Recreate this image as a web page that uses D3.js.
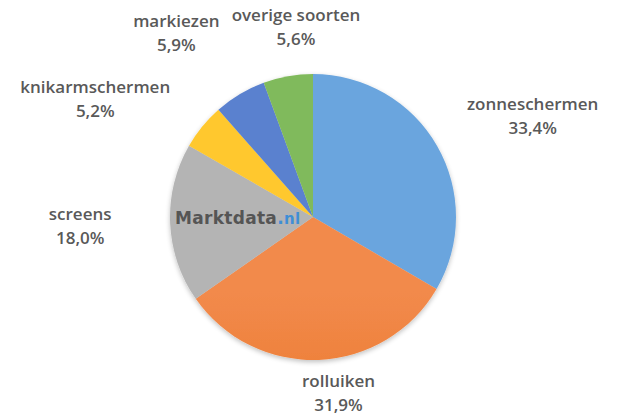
<!DOCTYPE html>
<html>
<head>
<meta charset="utf-8">
<script src="https://cdn.jsdelivr.net/npm/d3@7"></script>
<style>
  body { margin: 0; background: #fff; }
  svg { display: block; }
  text { font-family: "Open Sans", "Noto Sans", sans-serif; font-weight: 600; fill: #595959; }
</style>
</head>
<body>
<div id="chart"></div>
<script>
// Chart data
var categories = ['zonneschermen', 'rolluiken', 'screens', 'knikarmschermen', 'markiezen', 'overige soorten'];
var shares = [33.4, 31.9, 18.0, 5.2, 5.9, 5.6];
var shareLabels = ['33,4%', '31,9%', '18,0%', '5,2%', '5,9%', '5,6%'];

// top / bottom colours of each slice gradient
var coloursTop = ['#6ba5de', '#f28a4c', '#b4b4b4', '#ffc82e', '#5a81cf', '#80ba5c'];
var coloursBottom = ['#3b85cc', '#e3690f', '#939393', '#f5ba00', '#3864c0', '#62a53a'];

// label nudges relative to a point just outside the slice (layout only)
var labelNudge = [[61, -10], [18, -7], [-50, 1], [-76, -2], [-43, -27], [15, -10]];

var width = 626, height = 417;
var cx = 313, cy = 217, radius = 143;

var svg = d3.select('#chart').append('svg')
    .attr('width', width)
    .attr('height', height);

var defs = svg.append('defs');

// gradients
categories.forEach(function(c, i) {
    var g = defs.append('linearGradient')
        .attr('id', 'grad' + i)
        .attr('gradientUnits', 'userSpaceOnUse')
        .attr('x1', 0).attr('y1', cy - radius)
        .attr('x2', 0).attr('y2', cy + radius);
    g.append('stop').attr('offset', '0%').attr('stop-color', coloursTop[i]);
    g.append('stop').attr('offset', '100%').attr('stop-color', coloursBottom[i]);
});

// faint shadow like Excel
var shadow = defs.append('filter').attr('id', 'shadow')
    .attr('x', '-10%').attr('y', '-10%').attr('width', '120%').attr('height', '125%');
shadow.append('feGaussianBlur').attr('in', 'SourceAlpha').attr('stdDeviation', 2.5);
shadow.append('feOffset').attr('dx', 0).attr('dy', 2).attr('result', 'blur');
shadow.append('feComponentTransfer').append('feFuncA').attr('type', 'linear').attr('slope', 0.25);
var merge = shadow.append('feMerge');
merge.append('feMergeNode');
merge.append('feMergeNode').attr('in', 'SourceGraphic');

var pie = d3.pie().sort(null).value(function(d) { return d; });
var arcs = pie(shares);

var arc = d3.arc().innerRadius(0).outerRadius(radius);
var labelArc = d3.arc().innerRadius(radius + 40).outerRadius(radius + 40);

var g = svg.append('g').attr('transform', 'translate(' + cx + ',' + cy + ')');

g.append('g').attr('filter', 'url(#shadow)')
    .selectAll('path')
    .data(arcs)
    .enter().append('path')
        .attr('d', arc)
        .attr('fill', function(d, i) { return 'url(#grad' + i + ')'; });

// watermark
var wm = svg.append('text')
    .attr('x', 175)
    .attr('y', 224)
    .style('font-family', '"DejaVu Sans", sans-serif')
    .style('font-weight', 'bold')
    .style('font-size', '17px')
    .style('letter-spacing', '0.3px');
wm.append('tspan').text('Marktdata').style('fill', '#555555');
wm.append('tspan').text('.').style('fill', '#3f8ed6');
wm.append('tspan').text('nl').style('fill', '#3f8ed6').style('font-size', '15px');

// labels
var labels = g.selectAll('g.label')
    .data(arcs)
    .enter().append('g').attr('class', 'label')
    .attr('transform', function(d, i) {
        var p = labelArc.centroid(d);
        return 'translate(' + (p[0] + labelNudge[i][0]) + ',' + (p[1] + labelNudge[i][1]) + ')';
    });

labels.append('text')
    .attr('text-anchor', 'middle')
    .attr('y', -6)
    .style('font-size', '17px')
    .text(function(d, i) { return categories[i]; });

labels.append('text')
    .attr('text-anchor', 'middle')
    .attr('y', 18)
    .style('font-size', '17px')
    .text(function(d, i) { return shareLabels[i]; });
</script>
</body>
</html>
